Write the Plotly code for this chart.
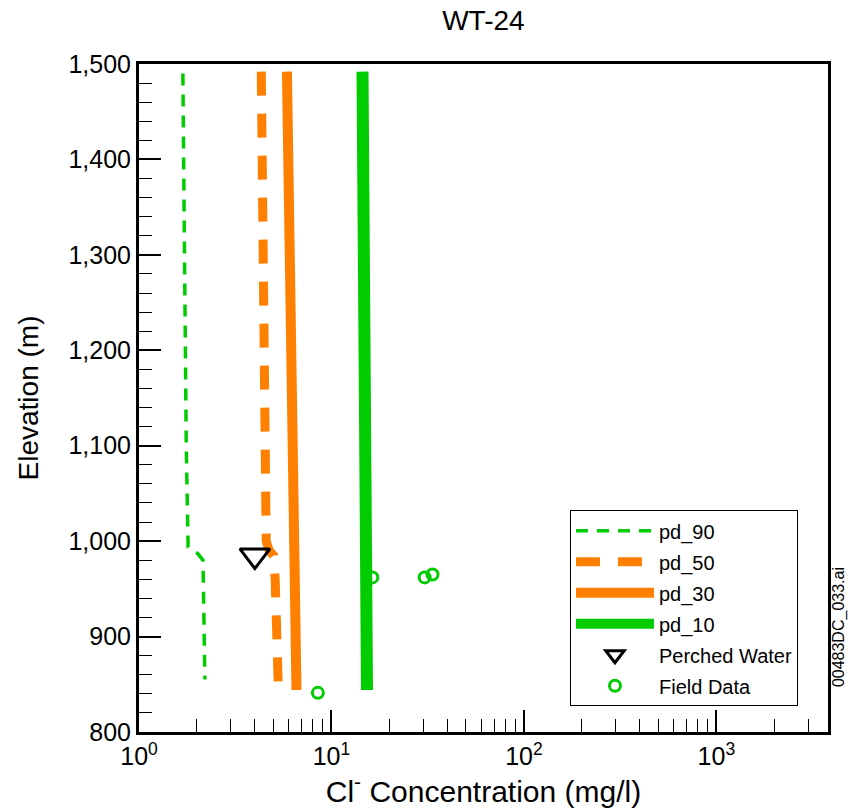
import plotly.graph_objects as go

# ---- data ----
pd90_conc = [1.69, 1.72, 1.76, 1.80, 2.02, 2.15, 2.20]
pd90_elev = [1490, 1300, 1100, 994, 987, 980, 855]

pd50_conc = [4.32, 4.35, 4.45, 4.58, 4.75, 5.0, 5.1, 5.2, 5.3]
pd50_elev = [1492, 1400, 1200, 1000, 990, 985, 960, 900, 844]

pd30_conc = [5.87, 5.95, 6.05, 6.2, 6.3, 6.45, 6.52, 6.58]
pd30_elev = [1492, 1400, 1300, 1100, 1000, 985, 900, 844]

pd10_conc = [14.5, 14.6, 14.8, 15.3, 15.4, 15.3]
pd10_elev = [1492, 1400, 1300, 1100, 1000, 844]

perched_conc = [4.0]
perched_elev = [985]

field_conc = [8.5, 16.3, 30.5, 33.5]
field_elev = [841, 962, 962, 965]

x_tickvals = [1, 10, 100, 1000]
x_ticktext = ["10<sup>0</sup>", "10<sup>1</sup>", "10<sup>2</sup>", "10<sup>3</sup>"]
x_minor = [m * d for d in (1, 10, 100) for m in range(2, 10)] + [2000, 3000]

GREEN = "rgb(0,204,0)"
ORANGE = "rgb(255,128,0)"
FONT = "Liberation Sans, Arial, sans-serif"

fig = go.Figure()
fig.add_trace(go.Scatter(x=pd90_conc, y=pd90_elev, mode="lines", name="pd_90",
                         legendgroup="a",
                         line=dict(color=GREEN, width=3.5, dash="12px,9px")))
fig.add_trace(go.Scatter(x=pd50_conc, y=pd50_elev, mode="lines", name="pd_50",
                         legendgroup="b",
                         line=dict(color=ORANGE, width=9, dash="24px,18px")))
fig.add_trace(go.Scatter(x=pd30_conc, y=pd30_elev, mode="lines", name="pd_30",
                         legendgroup="c",
                         line=dict(color=ORANGE, width=10)))
fig.add_trace(go.Scatter(x=pd10_conc, y=pd10_elev, mode="lines", name="pd_10",
                         legendgroup="d",
                         line=dict(color=GREEN, width=12)))
fig.add_trace(go.Scatter(x=perched_conc, y=perched_elev, mode="markers", name="Perched Water",
                         legendgroup="e",
                         marker=dict(symbol="triangle-down-open", size=26, color="black",
                                     line=dict(width=3, color="black"))))
fig.add_trace(go.Scatter(x=field_conc, y=field_elev, mode="markers", name="Field Data",
                         legendgroup="f",
                         marker=dict(symbol="circle-open", size=11, color=GREEN,
                                     line=dict(width=3, color=GREEN))))

fig.update_layout(
    width=850, height=811,
    margin=dict(l=139, r=22, t=64, b=79),
    paper_bgcolor="white", plot_bgcolor="white",
    font=dict(family=FONT, color="black", size=24),
    title=dict(text="WT-24", x=0.5687, xanchor="center", y=0.975, yanchor="middle",
               font=dict(size=28)),
    legend=dict(x=0.6255, y=0.332, xanchor="left", yanchor="top",
                bordercolor="black", borderwidth=1, bgcolor="white",
                font=dict(size=20), tracegroupgap=2, itemwidth=78,
                traceorder="grouped"),
    showlegend=True,
)

fig.update_xaxes(
    type="log", range=[0, 3.58],
    tickvals=x_tickvals, ticktext=x_ticktext,
    ticks="inside", ticklen=22, tickwidth=1.5, tickcolor="black",
    minor=dict(tickvals=x_minor, ticks="inside", ticklen=13, tickwidth=1.2, tickcolor="black"),
    showline=True, linecolor="black", linewidth=3, mirror=True,
    showgrid=False, zeroline=False,
    tickfont=dict(size=25),
    title=dict(text="Cl<sup>-</sup> Concentration (mg/l)", font=dict(size=30), standoff=4),
)
fig.update_yaxes(
    range=[800, 1500], dtick=100, tickformat=",d",
    ticks="inside", ticklen=22, tickwidth=1.5, tickcolor="black",
    minor=dict(dtick=20, ticks="inside", ticklen=13, tickwidth=1.2, tickcolor="black"),
    showline=True, linecolor="black", linewidth=3, mirror=True,
    showgrid=False, zeroline=False,
    tickfont=dict(size=25),
    title=dict(text="Elevation (m)", font=dict(size=28), standoff=22),
)

fig.add_annotation(text="00483DC_033.ai", xref="paper", yref="paper",
                   x=1.0, xanchor="left", xshift=0, y=0.157, yanchor="middle",
                   textangle=-90, showarrow=False, font=dict(size=16))

fig.write_html("out.html")
